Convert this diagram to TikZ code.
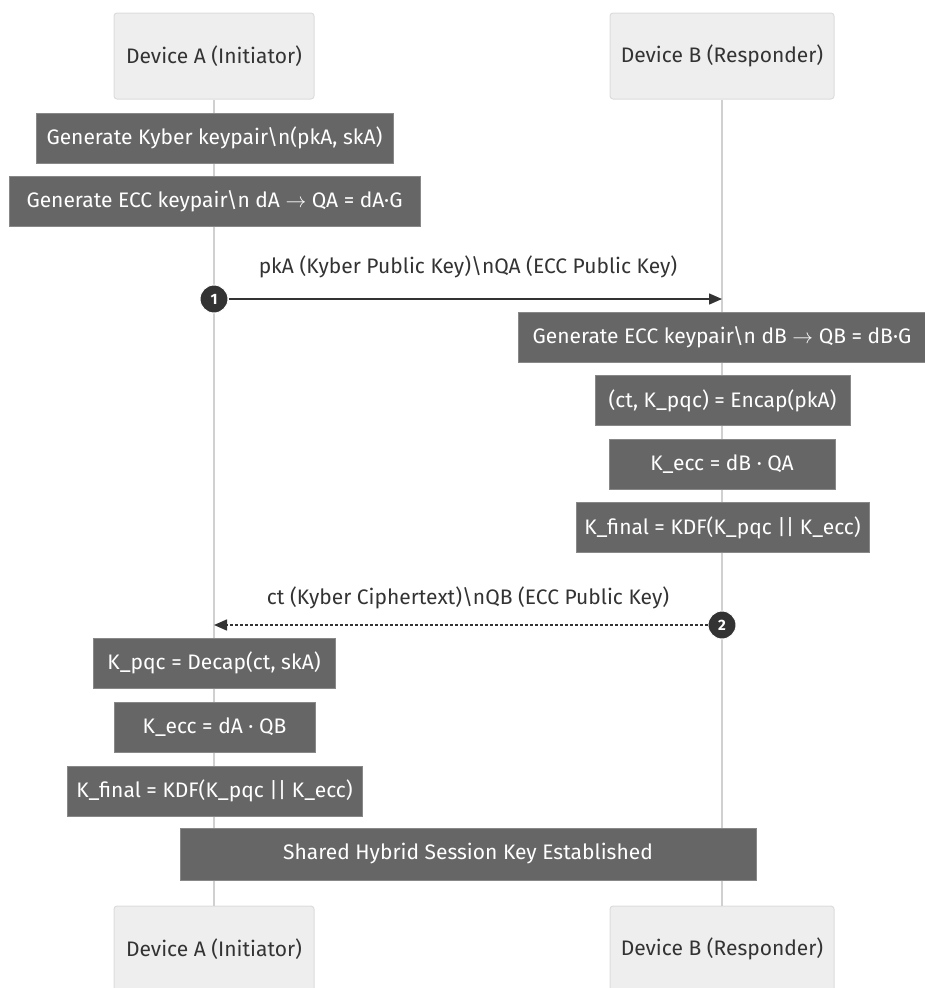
\documentclass[tikz,border=0pt]{standalone}
\usepackage{fontspec}
\setmainfont{Fira Sans}
\usetikzlibrary{arrows.meta}
\definecolor{actorfill}{HTML}{EEEEEE}
\definecolor{actorline}{HTML}{DCDCDC}
\definecolor{notefill}{HTML}{666666}
\definecolor{noteline}{HTML}{888888}
\definecolor{lifegray}{HTML}{D0D0D0}
\definecolor{msgdark}{HTML}{333333}
\definecolor{labelgray}{HTML}{333333}
\tikzstyle{actor}=[draw=actorline, fill=actorfill, rounded corners=3pt,
  minimum height=86pt, inner sep=0pt, text=labelgray, line width=1pt,
  font=\fontsize{21}{25}\selectfont]
\tikzstyle{note}=[draw=noteline, fill=notefill, text=white, line width=1pt,
  minimum height=50pt, inner sep=0pt, font=\fontsize{21}{25}\selectfont]
\tikzstyle{lifeline}=[draw=lifegray, line width=1.5pt]
\tikzstyle{msg}=[draw=msgdark, line width=1.5pt,
  -{Triangle[length=13pt,width=11pt]}]
\tikzstyle{reply}=[msg, dash pattern=on 3pt off 2pt]
\tikzstyle{seqnum}=[circle, fill=msgdark, draw=white, line width=1pt,
  text=white, minimum size=28pt, inner sep=0pt,
  font=\fontsize{15}{17}\selectfont\bfseries]
\tikzstyle{msglabel}=[text=labelgray, inner sep=0pt,
  font=\fontsize{21}{25}\selectfont]

\begin{document}
\begin{tikzpicture}[x=1pt,y=-1pt]
  \useasboundingbox (0,0) rectangle (924,988);

  % participants
  \node (TOPA) [actor, minimum width=200pt] at (214,56) {Device A (Initiator)};
  \node (TOPB) [actor, minimum width=224pt] at (722,56) {Device B (Responder)};
  \node (BOTA) [actor, minimum width=200pt] at (214,949) {Device A (Initiator)};
  \node (BOTB) [actor, minimum width=224pt] at (722,949) {Device B (Responder)};

  % lifelines
  \path [lifeline] (TOPA.south) -- (BOTA.north);
  \path [lifeline] (TOPB.south) -- (BOTB.north);

  % device A, key generation
  \node (KYBERA) [note, minimum width=357pt] at (214.5,138)
    {Generate Kyber keypair\textbackslash n(pkA, skA)};
  \node (ECCA) [note, minimum width=411pt] at (214.5,201.5)
    {Generate ECC keypair\textbackslash n dA $\rightarrow$ QA = dA·G};

  % first message
  \node (SEQONE) [seqnum] at (214,299) {1};
  \coordinate (RECVB) at (722,299);
  \node (MSGONE) [msglabel] at (468,267)
    {pkA (Kyber Public Key)\textbackslash nQA (ECC Public Key)};
  \path [msg] (SEQONE) -- (RECVB);

  % device B, encapsulation
  \node (ECCB) [note, minimum width=408pt] at (722,337)
    {Generate ECC keypair\textbackslash n dB $\rightarrow$ QB = dB·G};
  \node (ENCAP) [note, minimum width=255pt] at (722.5,400.5)
    {(ct, K\_pqc) = Encap(pkA)};
  \node (ECDHB) [note, minimum width=226pt] at (722,464)
    {K\_ecc = dB · QA};
  \node (KDFB) [note, minimum width=293pt] at (722.5,527.5)
    {K\_final = KDF(K\_pqc || K\_ecc)};

  % second message
  \node (SEQTWO) [seqnum] at (722,625) {2};
  \coordinate (RECVA) at (214,625);
  \node (MSGTWO) [msglabel] at (468,598)
    {ct (Kyber Ciphertext)\textbackslash nQB (ECC Public Key)};
  \path [reply] (SEQTWO) -- (RECVA);

  % device A, decapsulation
  \node (DECAP) [note, minimum width=242pt] at (214,663)
    {K\_pqc = Decap(ct, skA)};
  \node (ECDHA) [note, minimum width=201pt] at (214.5,727)
    {K\_ecc = dA · QB};
  \node (KDFA) [note, minimum width=295pt] at (214.5,791)
    {K\_final = KDF(K\_pqc || K\_ecc)};

  % both sides
  \node (SHARED) [note, minimum width=576pt, minimum height=52pt] at (468,854)
    {Shared Hybrid Session Key Established};
\end{tikzpicture}
\end{document}
